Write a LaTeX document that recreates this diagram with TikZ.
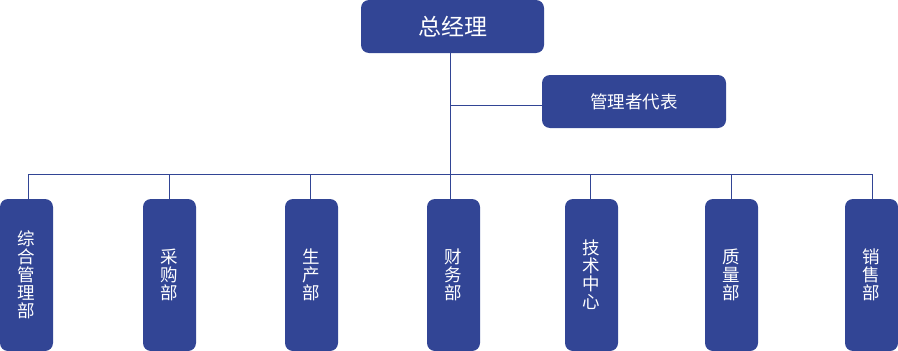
\documentclass[tikz,border=0pt]{standalone}
\usepackage{fontspec}
\newfontfamily\cjk{Noto Sans CJK SC}
\definecolor{boxblue}{RGB}{50,69,149}
\begin{document}
\begin{tikzpicture}[x=1pt,y=-1pt,
  boxstyle/.style={fill=boxblue,draw=none,rounded corners=8pt,text=white,inner sep=0pt},
  topbox/.style={boxstyle,minimum width=183pt,minimum height=53pt,font=\cjk\fontsize{23}{25}\selectfont},
  repbox/.style={boxstyle,minimum width=184pt,minimum height=53pt,font=\cjk\fontsize{17.5}{20}\selectfont},
  deptbox/.style={boxstyle,minimum width=53pt,minimum height=152pt,align=center,font=\cjk\fontsize{17.5}{18}\selectfont},
  conn/.style={draw=boxblue,line width=1pt}]
\useasboundingbox (0,0) rectangle (898,351);
\node[topbox] (gm) at (452.5,26.5) {总经理};
\node[repbox] (rep) at (634,101.5) {管理者代表};
\coordinate (j1) at (450,105);
\coordinate (bus) at (450,174);
\node[deptbox] (d1) at (26.5,275) {综\\合\\管\\理\\部};
\node[deptbox] (d2) at (169.5,275) {采\\购\\部};
\node[deptbox] (d3) at (311.5,275) {生\\产\\部};
\node[deptbox] (d4) at (453.5,275) {财\\务\\部};
\node[deptbox] (d5) at (591.5,275) {技\\术\\中\\心};
\node[deptbox] (d6) at (731.5,275) {质\\量\\部};
\node[deptbox] (d7) at (871.5,275) {销\\售\\部};
\coordinate (b1) at (28,174);
\coordinate (b2) at (169,174);
\coordinate (b3) at (310,174);
\coordinate (b4) at (450,174);
\coordinate (b5) at (590,174);
\coordinate (b6) at (731,174);
\coordinate (b7) at (872,174);
\draw[conn] (gm.south -| j1) -- (bus);
\draw[conn] (j1) -- (j1 -| rep.west);
\draw[conn] (b1) -- (b7);
\foreach \i in {1,...,7} {\draw[conn] (b\i) -- (b\i |- d\i.north);}
\end{tikzpicture}
\end{document}
